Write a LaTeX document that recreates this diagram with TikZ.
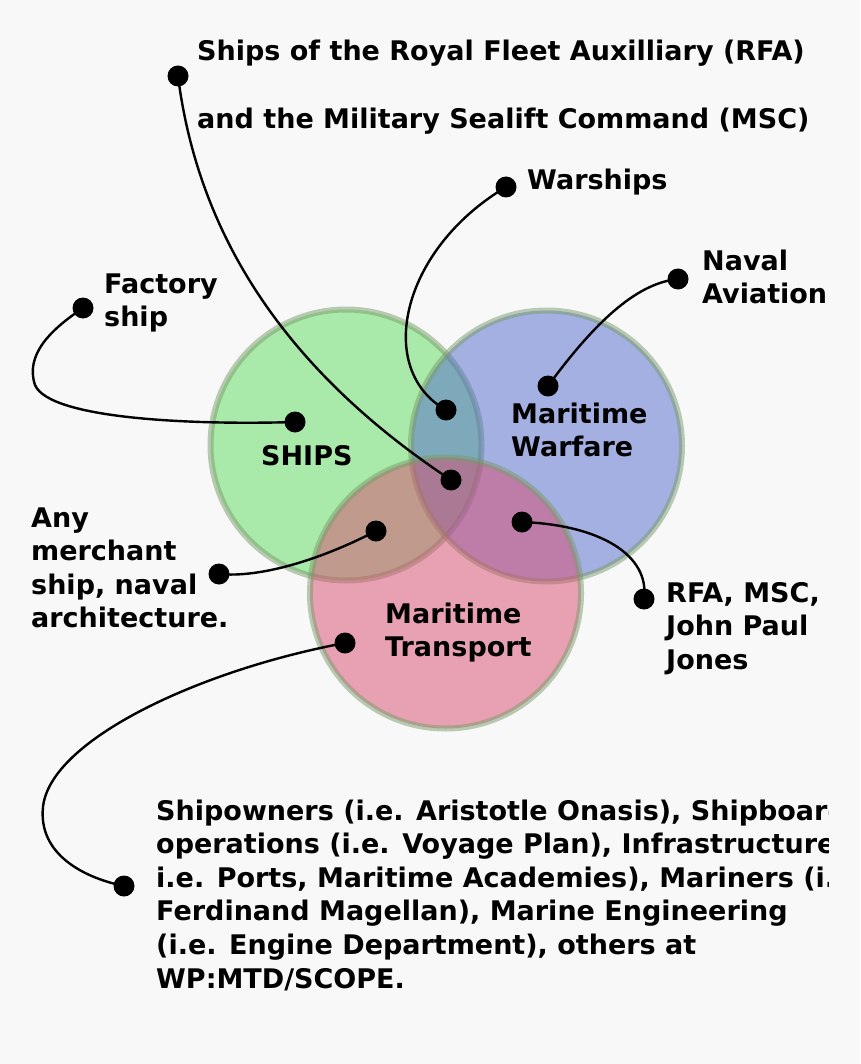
\documentclass[tikz,border=0pt]{standalone}
\usepackage{fontspec}
\setmainfont{DejaVu Sans}
\definecolor{bgc}{RGB}{248,248,248}
\definecolor{shipc}{RGB}{92,220,92}
\definecolor{warc}{RGB}{82,106,204}
\definecolor{tranc}{RGB}{216,76,112}
\definecolor{ringc}{RGB}{120,155,105}
\begin{document}
\begin{tikzpicture}[x=1pt,y=-1pt,
  dot/.style={circle,fill=black,inner sep=0pt,minimum size=21pt},
  lbl/.style={anchor=base west,inner sep=0pt,align=left,font=\bfseries\fontsize{27}{33.6}\selectfont},
  link/.style={line width=2.4pt,draw=black},
  venn/.style={circle,inner sep=0pt,minimum size=271pt,line width=6pt,draw=ringc,draw opacity=0.5,fill opacity=0.5}]
\clip (0,0) rectangle (860,1064);
\fill[bgc] (0,0) rectangle (860,1064);
% circles
\node[venn,fill=shipc] (ships) at (346,445) {};
\node[venn,fill=warc] (war) at (546.5,446) {};
\node[venn,fill=tranc] (tran) at (445.5,593) {};
% dots
\node[dot] (rfaTop) at (178,76) {};
\node[dot] (warTop) at (506,187) {};
\node[dot] (avTop) at (678,279) {};
\node[dot] (facTop) at (83,308) {};
\node[dot] (facIn) at (295,422) {};
\node[dot] (warIn) at (446,410) {};
\node[dot] (avIn) at (548,386) {};
\node[dot] (rfaIn) at (451,480) {};
\node[dot] (merIn) at (376,531) {};
\node[dot] (msIn) at (522,522) {};
\node[dot] (merOut) at (219,574) {};
\node[dot] (msOut) at (644,599) {};
\node[dot] (ownIn) at (345,643) {};
\node[dot] (ownOut) at (124,886) {};
% connectors
\draw[link] (rfaTop.center) .. controls (200,250) and (300,380) .. (rfaIn.center);
\draw[link] (warTop.center) .. controls (400,250) and (375,370) .. (warIn.center);
\draw[link] (avTop.center) .. controls (640,283) and (600,315) .. (avIn.center);
\draw[link] (facTop.center) .. controls (50,330) and (25,355) .. (35,385) .. controls (50,420) and (200,425) .. (facIn.center);
\draw[link] (merOut.center) .. controls (260,578) and (320,560) .. (merIn.center);
\draw[link] (msIn.center) .. controls (600,525) and (650,555) .. (msOut.center);
\draw[link] (ownIn.center) .. controls (200,670) and (50,740) .. (43,807) .. controls (38,855) and (85,878) .. (ownOut.center);
% labels (base = baseline of last line)
\node[lbl] (t1) at (197,61) {Ships of the Royal Fleet Auxilliary (RFA)};
\node[lbl] (t2) at (197,129) {and the Military Sealift Command (MSC)};
\node[lbl] (t3) at (527,190) {Warships};
\node[lbl] (t4) at (702,303.6) {Naval\\Aviation};
\node[lbl] (t5) at (104,326.6) {Factory\\ship};
\node[lbl] (t6) at (261,465) {SHIPS};
\node[lbl] (t7) at (511,456.6) {Maritime\\Warfare};
\node[lbl] (t8) at (385,656.6) {Maritime\\Transport};
\node[lbl] (t9) at (31,627.8) {Any\\merchant\\ship, naval\\architecture.};
\node[lbl] (t10) at (666,669.2) {RFA, MSC,\\John Paul\\Jones};
\begin{scope}
\clip (0,0) rectangle (828,1064);
\node[lbl] (t11) at (156,988) {Shipowners (i.e. Aristotle Onasis), Shipboard\\operations (i.e. Voyage Plan), Infrastructure (\\i.e. Ports, Maritime Academies), Mariners (i.e.\\Ferdinand Magellan), Marine Engineering\\(i.e. Engine Department), others at\\WP:MTD/SCOPE.};
\end{scope}
\end{tikzpicture}
\end{document}
